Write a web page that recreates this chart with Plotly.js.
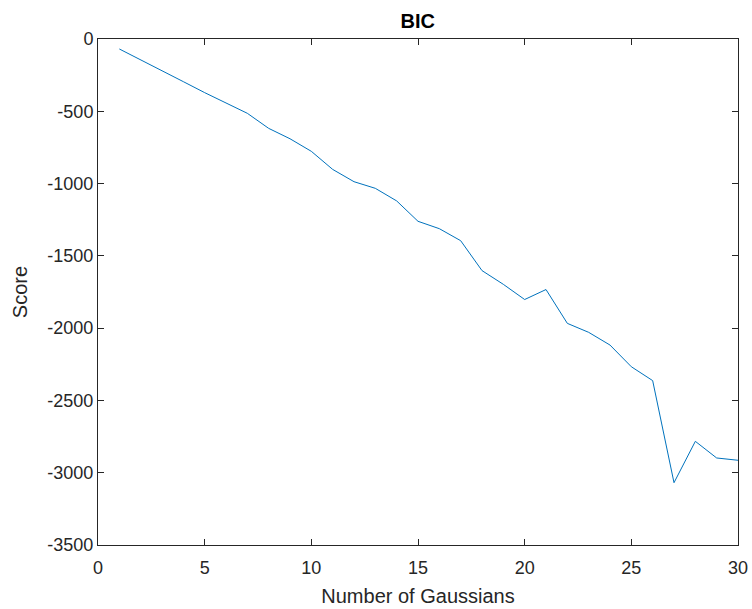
<!DOCTYPE html>
<html>
<head>
<meta charset="utf-8">
<script src="https://cdn.plot.ly/plotly-3.0.1.min.js"></script>
<style>html,body{margin:0;padding:0;background:#fff;}#chart{width:752px;height:609px;}</style>
</head>
<body>
<div id="chart"></div>
<script>
const numGaussians = [1,2,3,4,5,6,7,8,9,10,11,12,13,14,15,16,17,18,19,20,21,22,23,24,25,26,27,28,29,30];
const bicScore = [-69,-143,-219,-295,-371,-440,-514,-618,-690,-777,-902,-987,-1033,-1120,-1261,-1312,-1395,-1602,-1697,-1802,-1733,-1967,-2029,-2117,-2267,-2363,-3069,-2783,-2898,-2914];
const xTicks = [0,5,10,15,20,25,30];
const yTicks = [0,-500,-1000,-1500,-2000,-2500,-3000,-3500];

const font = {family: 'Liberation Sans, Arial, sans-serif', color: '#262626'};
const axisCommon = {
  showgrid: false, zeroline: false, showline: true, linecolor: '#262626', linewidth: 1,
  mirror: 'ticks', ticks: 'inside', ticklen: 6, tickcolor: '#262626', tickwidth: 1,
  tickfont: {family: font.family, size: 18, color: '#262626'},
  automargin: false
};

Plotly.newPlot('chart', [{
  x: numGaussians, y: bicScore, type: 'scatter', mode: 'lines',
  line: {color: '#0072BD', width: 1}
}], {
  width: 752, height: 609,
  margin: {l: 98, r: 14, t: 39, b: 64},
  paper_bgcolor: '#fff', plot_bgcolor: '#fff',
  title: {text: '<b>BIC</b>', font: {family: font.family, size: 20, color: '#000'}, x: 0.5556, xanchor: 'center', y: 0.966, yanchor: 'middle'},
  xaxis: Object.assign({}, axisCommon, {
    range: [0, 30], tickvals: xTicks, ticktext: xTicks.map(String),
    ticklabelstandoff: 6,
    title: {text: 'Number of Gaussians', font: {family: font.family, size: 20, color: '#262626'}, standoff: 12}
  }),
  yaxis: Object.assign({}, axisCommon, {
    range: [-3500, 0], tickvals: yTicks, ticktext: yTicks.map(String),
    title: {text: 'Score', font: {family: font.family, size: 20, color: '#262626'}, standoff: 14}
  }),
  showlegend: false
}, {displayModeBar: false, staticPlot: true});
</script>
</body>
</html>
